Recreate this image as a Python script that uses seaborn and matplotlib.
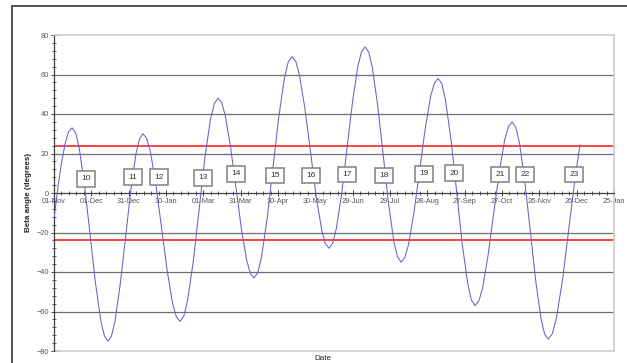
import numpy as np
import pandas as pd
import matplotlib
matplotlib.use("Agg")
import matplotlib.pyplot as plt
import matplotlib.dates as mdates
from matplotlib.patches import Rectangle
import seaborn as sns

# ── Data ─────────────────────────────────────────────────────────────────────
START = pd.Timestamp("2006-11-01")

# days after 01-Nov, beta angle in degrees
day_offsets = [
    0.0, 3.0, 6.0, 9.0, 11.6, 14.5,
    17.4, 20.3, 24.6, 29.0, 33.3, 37.6, 40.5, 43.4,
    46.2, 49.0, 53.2, 57.5, 61.7, 65.9, 68.7, 71.5,
    74.5, 77.5, 81.9, 86.4, 90.9, 95.3, 98.3, 101.3,
    104.4, 107.4, 112.0, 116.6, 121.1, 125.7, 128.8, 131.8,
    134.7, 137.6, 141.9, 146.3, 150.6, 154.9, 157.8, 160.7,
    163.8, 166.8, 171.4, 176.0, 180.6, 185.2, 188.2, 191.3,
    194.3, 197.2, 201.7, 206.2, 210.6, 215.1, 218.0, 221.0,
    223.9, 226.8, 231.2, 235.5, 239.9, 244.2, 247.1, 250.0,
    252.9, 255.8, 260.1, 264.5, 268.8, 273.1, 276.0, 278.9,
    281.9, 284.9, 289.3, 293.8, 298.3, 302.7, 305.7, 308.7,
    311.7, 314.6, 319.1, 323.6, 328.0, 332.5, 335.4, 338.4,
    341.4, 344.4, 348.8, 353.3, 357.8, 362.2, 365.2, 368.2,
    371.1, 374.0, 378.3, 382.7, 387.0, 391.3, 394.2, 397.1,
    400.5, 403.8, 408.9, 413.9, 419.0, 422.7,
]
beta_angle = [
    -13.0, 2.2, 15.2, 25.2, 30.8, 33.0,
    30.4, 22.7, 3.5, -21.0, -45.5, -64.7, -72.4, -75.0,
    -72.4, -65.0, -46.3, -22.5, 1.3, 20.0, 27.4, 30.0,
    27.7, 20.9, 4.1, -17.5, -39.1, -55.9, -62.7, -65.0,
    -62.2, -54.2, -34.2, -8.5, 17.2, 37.2, 45.2, 48.0,
    45.8, 39.3, 23.2, 2.5, -18.2, -34.3, -40.8, -43.0,
    -40.3, -32.3, -12.4, 13.0, 38.4, 58.3, 66.3, 69.0,
    66.6, 59.7, 42.5, 20.5, -1.5, -18.7, -25.6, -28.0,
    -25.5, -18.3, -0.2, 23.0, 46.2, 64.3, 71.5, 74.0,
    71.3, 63.6, 44.2, 19.5, -5.2, -24.6, -32.3, -35.0,
    -32.7, -26.1, -9.6, 11.5, 32.6, 49.1, 55.7, 58.0,
    55.2, 47.0, 26.6, 0.5, -25.6, -46.0, -54.2, -57.0,
    -54.7, -48.1, -31.6, -10.5, 10.6, 27.1, 33.7, 36.0,
    33.3, 25.5, 6.0, -19.0, -44.0, -63.5, -71.3, -74.0,
    -71.2, -63.1, -42.9, -17.0, 8.9, 24.4,
]

# numbered boxes: label, day after 01-Nov, height (degrees)
box_labels = ["10", "11", "12", "13", "14", "15", "16",
              "17", "18", "19", "20", "21", "22", "23"]
box_days = [25.7, 63.5, 84.4, 119.7, 146.3, 177.6, 206.5,
            235.5, 265.2, 297.3, 321.4, 358.4, 378.5, 417.9]
box_heights = [7.1, 8.1, 8.1, 7.6, 9.7, 8.7, 8.7,
               9.2, 8.7, 9.7, 10.1, 9.2, 9.2, 9.2]

limit_angle = 24          # red limit lines at +/- this value
gridline_values = [-60, -40, -20, 20, 40, 60]
n_xticks = 16             # 01-Nov ... 25-Jan, every 30 days

df = pd.DataFrame({
    "Date": START + pd.to_timedelta(day_offsets, unit="D"),
    "Beta": beta_angle,
})

# ── Plot ─────────────────────────────────────────────────────────────────────
sns.set_style("white")
plt.rcParams["font.family"] = ["Liberation Sans", "DejaVu Sans"]

fig = plt.figure(figsize=(6.27, 3.63), dpi=100)
ax = fig.add_axes([54 / 627, 1 - 351 / 363, (614 - 54) / 627, (351 - 35) / 363])

for v in gridline_values:
    ax.axhline(v, color="#6e6e6e", lw=0.9, zorder=1)
ax.axhline(-80, color="#cccccc", lw=1.2, zorder=1, clip_on=False)
ax.axhline(limit_angle, color="#ff2020", lw=1.2, zorder=2)
ax.axhline(-limit_angle, color="#ff2020", lw=1.2, zorder=2)

sns.lineplot(data=df, x="Date", y="Beta", ax=ax, color="#6464c8",
             lw=0.75, zorder=3)

for lab, d, h in zip(box_labels, box_days, box_heights):
    ax.text(START + pd.Timedelta(days=d), h, lab, ha="center", va="center",
            fontsize=6, color="#333333", zorder=5,
            bbox=dict(boxstyle="square,pad=0.5", fc="white",
                      ec="#808080", lw=1.1))

xticks = pd.date_range(START, periods=n_xticks, freq="30D")
ax.set_xlim(xticks[0], xticks[-1])
ax.set_ylim(-80, 80)
ax.set_xticks(xticks)
ax.xaxis.set_major_formatter(mdates.DateFormatter("%d-%b"))
ax.set_xticks(pd.date_range(START, xticks[-1], freq="6D"), minor=True)
ax.set_yticks(np.arange(-80, 81, 20))
ax.set_yticks(np.arange(-80, 81, 4), minor=True)

ax.spines["bottom"].set_position(("data", 0))
ax.spines["bottom"].set_color("#404040")
ax.spines["left"].set_color("#404040")
ax.spines["bottom"].set_linewidth(0.9)
ax.spines["left"].set_linewidth(0.9)
for s in ["top", "right"]:
    ax.spines[s].set_color("#cccccc")
    ax.spines[s].set_linewidth(1.2)

ax.tick_params(axis="both", which="major", direction="inout", length=4,
               width=0.7, color="#404040", labelsize=5.3, labelcolor="#555555",
               pad=1.5)
ax.tick_params(axis="both", which="minor", direction="inout", length=2.5,
               width=0.6, color="#404040")
ax.tick_params(axis="x", which="both", bottom=True)
ax.tick_params(axis="y", which="both", left=True)

ax.set_xlabel("")
ax.set_ylabel("Beta angle (degrees)", fontsize=5.8, fontweight="bold",
              labelpad=3)
fig.text(323 / 627, 1 - 359 / 363, "Date", ha="center", va="center",
         fontsize=5.8, color="#222222")

# outer chart border
fig.patches.append(Rectangle((12 / 627, -0.1), 1.2, 1.1 - 6 / 363,
                             transform=fig.transFigure, fill=False,
                             ec="#333333", lw=1.2))

fig.savefig("out.png", dpi=100)
